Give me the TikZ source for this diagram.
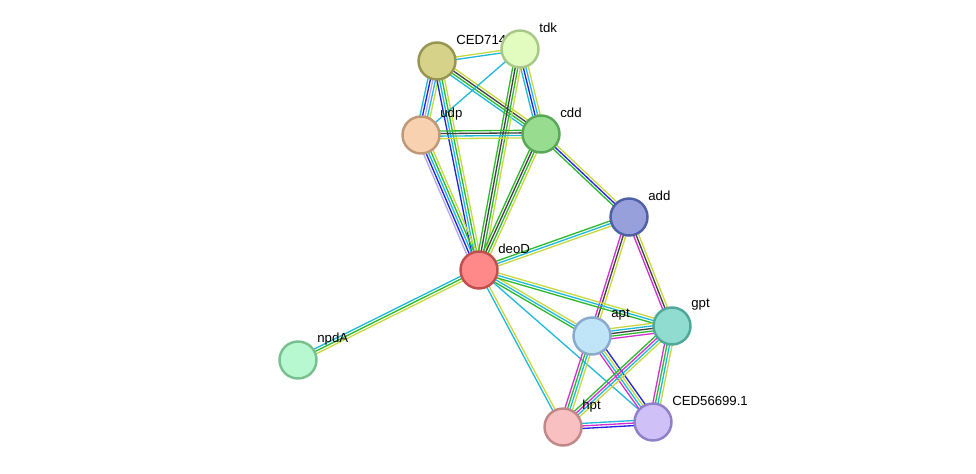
\documentclass[tikz,border=0pt]{standalone}
\usepackage{fontspec}
\setmainfont{Liberation Sans}
\usetikzlibrary{calc}
\definecolor{cNb}{HTML}{2DB82D}
\definecolor{cCo}{HTML}{2020E0}
\definecolor{cDb}{HTML}{20B8D8}
\definecolor{cTm}{HTML}{C8D840}
\definecolor{cEx}{HTML}{D030D0}
\definecolor{cCx}{HTML}{404040}
\definecolor{cHo}{HTML}{B0A8F0}
\tikzset{
  prot/.style={circle, draw, line width=1.4pt, minimum size=0.74cm, inner sep=0pt},
  lbl/.style={anchor=west, font=\fontsize{7.5}{9}\selectfont, inner sep=0pt},
}
% parallel coloured evidence lines between two proteins
\newcommand{\evlink}[3]{%
  \foreach \c [count=\i] in {#3} {\xdef\nlines{\i}}%
  \foreach \c [count=\i] in {#3} {%
    \pgfmathsetmacro{\off}{(\i-(\nlines+1)/2)*1.45}%
    \draw[\c, line width=0.75pt] ($(#1)!\off pt!90:(#2)$) -- ($(#2)!\off pt!-90:(#1)$);
  }%
}
\begin{document}
\begin{tikzpicture}[x=0.02cm, y=-0.02cm]
\useasboundingbox (0,0) rectangle (976,473);
% node centres
\coordinate (ced71) at (437,61);
\coordinate (tdk) at (520,49);
\coordinate (udp) at (421,135);
\coordinate (cdd) at (541,134);
\coordinate (add) at (629,217);
\coordinate (deoD) at (479,270);
\coordinate (npdA) at (298,360);
\coordinate (apt) at (592,336);
\coordinate (gpt) at (672,326);
\coordinate (hpt) at (563,427);
\coordinate (ced56) at (653,422);
% edges
\evlink{ced71}{tdk}{cDb,cTm}
\evlink{ced71}{udp}{cDb,cCo,cHo,cDb,cTm}
\evlink{ced71}{cdd}{cDb,cNb,cCx,cTm}
\evlink{ced71}{deoD}{cCo,cDb,cNb,cTm}
\evlink{tdk}{udp}{cDb}
\evlink{tdk}{cdd}{cDb,cCo,cDb,cTm}
\evlink{tdk}{deoD}{cNb,cCx,cNb,cTm}
\evlink{udp}{cdd}{cTm,cDb,cCx,cNb}
\evlink{udp}{deoD}{cHo,cCo,cDb,cNb,cTm}
\evlink{cdd}{deoD}{cNb,cCx,cNb,cTm}
\evlink{cdd}{add}{cNb,cCo,cTm}
\evlink{add}{deoD}{cNb,cDb,cTm}
\evlink{add}{apt}{cEx,cCx,cTm}
\evlink{add}{gpt}{cEx,cCx,cTm}
\evlink{deoD}{npdA}{cDb,cNb,cTm}
\evlink{deoD}{apt}{cNb,cDb,cTm}
\evlink{deoD}{gpt}{cNb,cDb,cTm}
\evlink{deoD}{hpt}{cDb,cTm}
\evlink{deoD}{ced56}{cDb}
\evlink{apt}{gpt}{cEx,cNb,cCx,cDb,cTm}
\evlink{apt}{hpt}{cEx,cNb,cDb,cTm}
\evlink{apt}{ced56}{cEx,cDb,cTm,cCo}
\evlink{gpt}{hpt}{cNb,cEx,cDb,cTm}
\evlink{gpt}{ced56}{cEx,cNb,cDb,cTm}
\evlink{hpt}{ced56}{cCo,cEx,cDb}
% label hidden partly under tdk
\node[lbl] (l-ced71) at ($(ced71)+(19,-21)$) {CED71497.1};
% proteins
\node[prot, fill={rgb,255:red,214;green,210;blue,138}, draw={rgb,255:red,150;green,150;blue,80}] (n-ced71) at (ced71) {};
\node[prot, fill={rgb,255:red,226;green,252;blue,192}, draw={rgb,255:red,168;green,200;blue,136}] (n-tdk) at (tdk) {};
\node[prot, fill={rgb,255:red,248;green,210;blue,176}, draw={rgb,255:red,192;green,152;blue,120}] (n-udp) at (udp) {};
\node[prot, fill={rgb,255:red,152;green,220;blue,144}, draw={rgb,255:red,88;green,168;blue,88}] (n-cdd) at (cdd) {};
\node[prot, fill={rgb,255:red,152;green,160;blue,220}, draw={rgb,255:red,80;green,96;blue,168}] (n-add) at (add) {};
\node[prot, fill={rgb,255:red,255;green,136;blue,136}, draw={rgb,255:red,192;green,80;blue,80}] (n-deoD) at (deoD) {};
\node[prot, fill={rgb,255:red,184;green,248;blue,208}, draw={rgb,255:red,120;green,192;blue,144}] (n-npdA) at (npdA) {};
\node[prot, fill={rgb,255:red,192;green,228;blue,248}, draw={rgb,255:red,136;green,170;blue,204}] (n-apt) at (apt) {};
\node[prot, fill={rgb,255:red,144;green,220;blue,208}, draw={rgb,255:red,80;green,168;blue,152}] (n-gpt) at (gpt) {};
\node[prot, fill={rgb,255:red,248;green,192;blue,192}, draw={rgb,255:red,192;green,136;blue,136}] (n-hpt) at (hpt) {};
\node[prot, fill={rgb,255:red,208;green,192;blue,248}, draw={rgb,255:red,144;green,128;blue,200}] (n-ced56) at (ced56) {};
% labels
\node[lbl] (l-tdk) at ($(tdk)+(19,-21)$) {tdk};
\node[lbl] (l-udp) at ($(udp)+(19,-21)$) {udp};
\node[lbl] (l-cdd) at ($(cdd)+(19,-21)$) {cdd};
\node[lbl] (l-add) at ($(add)+(19,-21)$) {add};
\node[lbl] (l-deoD) at ($(deoD)+(19,-21)$) {deoD};
\node[lbl] (l-npdA) at ($(npdA)+(19,-21)$) {npdA};
\node[lbl] (l-apt) at ($(apt)+(19,-21)$) {apt};
\node[lbl] (l-gpt) at ($(gpt)+(19,-21)$) {gpt};
\node[lbl] (l-hpt) at ($(hpt)+(19,-21)$) {hpt};
\node[lbl] (l-ced56) at ($(ced56)+(19,-21)$) {CED56699.1};
\end{tikzpicture}
\end{document}
